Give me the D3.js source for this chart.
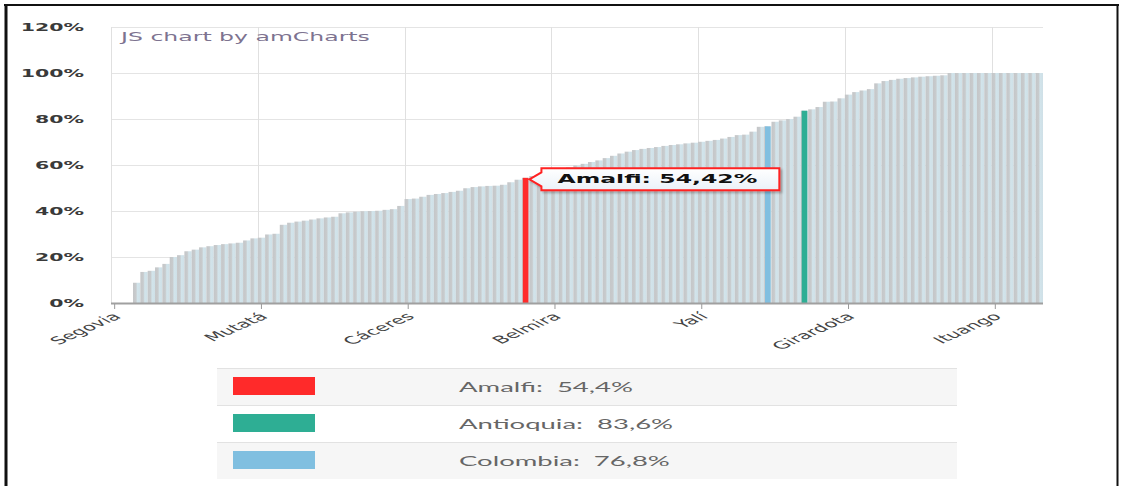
<!DOCTYPE html>
<html>
<head>
<meta charset="utf-8">
<script src="https://cdn.jsdelivr.net/npm/d3@7"></script>
<style>
  body { margin: 0; background: #fff; }
  svg { display: block; }
  text { white-space: pre; }
</style>
</head>
<body>
<div id="chart"></div>
<script>
/* DATA */
// share per municipio, sorted ascending (127 bars: 125 municipios + Antioquia + Colombia)
const values = [
  0, 0, 0, 8.8, 13.5, 14, 15.5, 17, 20, 20.8,
  22.5, 23.2, 24.2, 24.7, 25.2, 25.6, 25.9, 26.2, 27.2, 28.1,
  28.4, 29.8, 30.1, 34, 34.9, 35.4, 35.8, 36.3, 36.8, 37.2,
  37.5, 39, 39.4, 39.7, 39.9, 40, 40.1, 40.5, 40.8, 42.2,
  45.2, 45.4, 46.2, 47, 47.4, 47.8, 48.3, 48.8, 49.9, 50.4,
  50.7, 50.9, 51, 51.4, 52.5, 53.6, 54.42, 55.2, 56, 56.8,
  57.5, 58.2, 59, 59.8, 60.5, 61.3, 62, 63, 64, 65,
  65.8, 66.5, 67, 67.4, 67.8, 68.3, 68.7, 69, 69.4, 69.7,
  70.1, 70.5, 70.9, 71.5, 72.2, 73, 73.2, 74.5, 76.6, 76.8,
  78.8, 79.4, 80, 81, 83.6, 84.2, 85.2, 87.5, 87.6, 89,
  90.6, 91.7, 92.4, 93, 95.5, 96.5, 97, 97.5, 97.8, 98.1,
  98.4, 98.6, 98.8, 99, 100, 100, 100, 100, 100, 100,
  100, 100, 100, 100, 100, 100, 100
];
const categories = values.map((d, i) => i);

// every 20th bar carries a label
const tickIndex = [0, 20, 40, 60, 80, 100, 120];
const tickNames = ["Segovia", "Mutatá", "Cáceres", "Belmira", "Yalí", "Girardota", "Ituango"];

const yTicks = [0, 20, 40, 60, 80, 100, 120];

// highlighted bars
const hlNames = ["Amalfi", "Antioquia", "Colombia"];
const hlIndex = [56, 94, 89];
const hlLegend = ["54,4%", "83,6%", "76,8%"];
const hlColors = ["#ff2a2a", "#2eae94", "#80bfe0"];

/* LAYOUT */
const width = 1123, height = 486;
const plot = { left: 111, right: 1043, top: 27, bottom: 303 };
const sx = 2.05; // the whole picture is stretched horizontally

const svg = d3.select("#chart").append("svg")
  .attr("width", width)
  .attr("height", height);

const defs = svg.append("defs");
const grad = defs.append("linearGradient").attr("id", "stripe")
  .attr("x1", 0).attr("x2", 1).attr("y1", 0).attr("y2", 0);
grad.append("stop").attr("offset", "0%").attr("stop-color", "#c4c6c8");
grad.append("stop").attr("offset", "40%").attr("stop-color", "#c8cbcd");
grad.append("stop").attr("offset", "60%").attr("stop-color", "#d2e4eb");
grad.append("stop").attr("offset", "100%").attr("stop-color", "#cfe0e7");

const tipGrad = defs.append("linearGradient").attr("id", "tipfill")
  .attr("x1", 0).attr("x2", 0).attr("y1", 0).attr("y2", 1);
tipGrad.append("stop").attr("offset", "0%").attr("stop-color", "#ffffff");
tipGrad.append("stop").attr("offset", "100%").attr("stop-color", "#eaf1f8");

const shadow = defs.append("filter").attr("id", "shadow")
  .attr("x", "-10%").attr("y", "-30%").attr("width", "130%").attr("height", "170%");
shadow.append("feDropShadow").attr("dx", 2).attr("dy", 2).attr("stdDeviation", 1.2)
  .attr("flood-color", "#000").attr("flood-opacity", 0.25);

// SCALES
const xScale = d3.scaleBand()
  .domain(categories)
  .range([plot.left, plot.right])
  .padding(0);

const yScale = d3.scaleLinear()
  .domain([0, 120])
  .range([plot.bottom, plot.top]);

const bw = xScale.bandwidth();

// stretched text helper
function sText(g, x, y, str, opts) {
  const t = g.append("g")
    .attr("transform", `translate(${x},${y}) scale(${sx},1)` + (opts.rotate ? ` rotate(${opts.rotate})` : ""))
    .append("text")
    .attr("font-family", opts.family || "DejaVu Sans, Verdana, sans-serif")
    .attr("font-size", opts.size)
    .attr("font-weight", opts.weight || "normal")
    .attr("fill", opts.fill || "#333")
    .attr("text-anchor", opts.anchor || "start")
    .attr("dy", opts.dy || "0.35em")
    .text(str);
  return t;
}

// GRID
const grid = svg.append("g");
grid.selectAll("line.h")
  .data(yTicks)
  .join("line")
  .attr("class", "h")
  .attr("x1", plot.left).attr("x2", plot.right)
  .attr("y1", d => Math.round(yScale(d)) + 0.5)
  .attr("y2", d => Math.round(yScale(d)) + 0.5)
  .attr("stroke", "#e4e4e4");

grid.selectAll("line.v")
  .data(tickIndex)
  .join("line")
  .attr("class", "v")
  .attr("x1", d => Math.round(xScale(d)) + 0.5)
  .attr("x2", d => Math.round(xScale(d)) + 0.5)
  .attr("y1", plot.top).attr("y2", plot.bottom)
  .attr("stroke", "#e0e0e0");

// watermark
sText(svg, 121, 37, "JS chart by amCharts", { size: 11.5, fill: "#7d7390" });

// BARS
svg.append("g").selectAll("rect")
  .data(values)
  .join("rect")
  .attr("x", (d, i) => xScale(i))
  .attr("width", bw)
  .attr("y", d => yScale(d))
  .attr("height", d => yScale(0) - yScale(d))
  .attr("fill", "url(#stripe)");

svg.append("g").selectAll("rect")
  .data(hlIndex)
  .join("rect")
  .attr("x", d => xScale(d) + bw * 0.12)
  .attr("width", bw * 0.76)
  .attr("y", d => yScale(values[d]))
  .attr("height", d => yScale(0) - yScale(values[d]))
  .attr("fill", (d, i) => hlColors[i]);

// AXES
svg.append("line")
  .attr("x1", plot.left).attr("x2", plot.right)
  .attr("y1", plot.bottom + 0.5).attr("y2", plot.bottom + 0.5)
  .attr("stroke", "#a0a0a0").attr("stroke-width", 2);

svg.append("g").selectAll("line")
  .data(tickIndex)
  .join("line")
  .attr("x1", d => xScale(d) + bw / 2)
  .attr("x2", d => xScale(d) + bw / 2)
  .attr("y1", plot.bottom + 1).attr("y2", plot.bottom + 6)
  .attr("stroke", "#999");

const yLab = svg.append("g");
yTicks.forEach(t => {
  sText(yLab, 84, yScale(t), t + "%", { size: 10, weight: "bold", anchor: "end", fill: "#3a3a3a" });
});

const xLab = svg.append("g");
tickIndex.forEach((t, i) => {
  sText(xLab, xScale(t) + bw / 2 + 3, plot.bottom + 12, tickNames[i],
    { size: 10.5, anchor: "end", fill: "#444", rotate: -42, dy: "0.3em" });
});

// TOOLTIP on Amalfi
const ai = hlIndex[0];
const tipX = xScale(ai) + bw * 0.88 + 1;
const tipY = yScale(values[ai]) + 1.5;
const tip = svg.append("g");
const tipPath = tip.append("path")
  .attr("fill", "url(#tipfill)")
  .attr("stroke", "#ff2020")
  .attr("stroke-width", 2)
  .attr("filter", "url(#shadow)");
const tipText = sText(tip, tipX + 28, tipY, hlNames[0] + ": " + d3.format(".2f")(values[ai]).replace(".", ",") + "%",
  { size: 11.5, weight: "bold", fill: "#111" });
const tw = tipText.node().getComputedTextLength() * sx;
const bx0 = tipX + 12, bx1 = tipX + 28 + tw + 22, by0 = tipY - 11, by1 = tipY + 11;
tipPath.attr("d", `M${tipX},${tipY} L${bx0},${tipY - 7} L${bx0},${by0} L${bx1},${by0} L${bx1},${by1} L${bx0},${by1} L${bx0},${tipY + 7} Z`);

// LEGEND
const legend = svg.append("g");
const rowTop = [368, 405, 442];
const rowH = 37;
legend.selectAll("rect.row")
  .data(hlNames)
  .join("rect")
  .attr("class", "row")
  .attr("x", 217).attr("width", 740)
  .attr("y", (d, i) => rowTop[i]).attr("height", rowH)
  .attr("fill", (d, i) => i === 1 ? "#ffffff" : "#f6f6f6");
legend.selectAll("line")
  .data(rowTop)
  .join("line")
  .attr("x1", 217).attr("x2", 957)
  .attr("y1", d => d + 0.5).attr("y2", d => d + 0.5)
  .attr("stroke", "#e2e2e2");
legend.selectAll("rect.sw")
  .data(hlNames)
  .join("rect")
  .attr("class", "sw")
  .attr("x", 233).attr("width", 82)
  .attr("y", (d, i) => rowTop[i] + 9).attr("height", 18)
  .attr("fill", (d, i) => hlColors[i]);
hlNames.forEach((n, i) => {
  sText(legend, 459, rowTop[i] + rowH / 2 + 1, n + ":  " + hlLegend[i],
    { size: 13.4, family: "Lato, sans-serif", fill: "#666", dy: "0.35em" });
});

// FRAME
svg.append("line").attr("x1", 4).attr("x2", 1119).attr("y1", 5).attr("y2", 5)
  .attr("stroke", "#111").attr("stroke-width", 2);
svg.append("line").attr("x1", 6).attr("x2", 6).attr("y1", 4).attr("y2", height)
  .attr("stroke", "#111").attr("stroke-width", 3);
svg.append("line").attr("x1", 1117.5).attr("x2", 1117.5).attr("y1", 4).attr("y2", height)
  .attr("stroke", "#111").attr("stroke-width", 2);
</script>
</body>
</html>
